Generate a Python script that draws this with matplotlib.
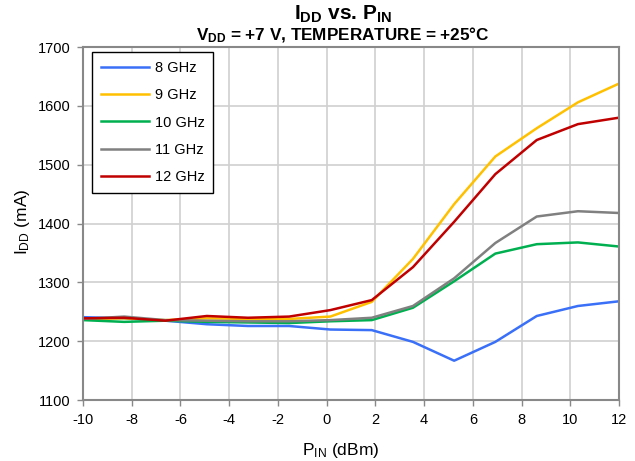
import matplotlib
matplotlib.use('Agg')
import matplotlib.pyplot as plt

plt.rcParams['font.family'] = ['Liberation Sans', 'DejaVu Sans']
plt.rcParams['mathtext.fontset'] = 'custom'
plt.rcParams['mathtext.rm'] = 'Liberation Sans'
plt.rcParams['mathtext.it'] = 'Liberation Sans'
plt.rcParams['mathtext.bf'] = 'Liberation Sans:bold'
plt.rcParams['axes.unicode_minus'] = False

# Datos
pin = [-10, -8.31, -6.62, -4.92, -3.23, -1.54, 0.15, 1.85, 3.54, 5.23, 6.92, 8.62, 10.31, 12]
idd_8 = [1241, 1239, 1235, 1229, 1226, 1226, 1220, 1219, 1199, 1167, 1199, 1243, 1260, 1268]
idd_9 = [1238, 1239, 1236, 1239, 1238, 1238, 1242, 1267, 1340, 1433, 1514, 1562, 1606, 1638]
idd_10 = [1236, 1233, 1235, 1233, 1232, 1231, 1234, 1236, 1257, 1302, 1349, 1365, 1368, 1361]
idd_11 = [1238, 1242, 1236, 1235, 1234, 1234, 1236, 1240, 1260, 1307, 1367, 1412, 1421, 1418]
idd_12 = [1239, 1240, 1235, 1243, 1240, 1242, 1253, 1270, 1326, 1403, 1484, 1542, 1569, 1580]

series = [
    ('8 GHz', idd_8, '#3a6ff7'),
    ('9 GHz', idd_9, '#ffc000'),
    ('10 GHz', idd_10, '#00b050'),
    ('11 GHz', idd_11, '#808080'),
    ('12 GHz', idd_12, '#c00000'),
]

fig = plt.figure(figsize=(6.35, 4.61), dpi=100)
ax = fig.add_axes([0.1307, 0.132, 0.8443, 0.766])

for nombre, valores, color in series:
    ax.plot(pin, valores, color=color, linewidth=1.8, label=nombre)

ax.set_xlim(-10, 12)
ax.set_ylim(1100, 1700)
ax.set_xticks(range(-10, 13, 2))
ax.set_yticks(range(1100, 1701, 100))
ax.grid(True, color='#d0d0d0', linewidth=1.2)
ax.set_axisbelow(True)
ax.tick_params(length=4, width=1, color='#888888', labelsize=10.5, pad=5)
for s in ax.spines.values():
    s.set_color('#888888')
    s.set_linewidth(1.5)

ax.set_xlabel(r'P$_{\mathregular{IN}}$ (dBm)', fontsize=12.5, va='center')
ax.xaxis.set_label_coords(0.48, -0.142)
ax.set_ylabel(r'I$_{\mathregular{DD}}$ (mA)', fontsize=12.5)
ax.yaxis.set_label_coords(-0.096, 0.505)

fig.text(0.540, 0.969, r'$\mathbf{I_{DD}}$ vs. $\mathbf{P_{IN}}$', ha='center', va='center',
         fontsize=15, fontweight='bold')
fig.text(0.540, 0.924, r'$\mathbf{V_{DD}}$ = +7 V, TEMPERATURE = +25°C', ha='center', va='center',
         fontsize=12.3, fontweight='bold')

leg = ax.legend(loc='upper left', bbox_to_anchor=(0.017, 0.986), borderaxespad=0,
                fontsize=10.5, fancybox=False, edgecolor='black', framealpha=1,
                handlelength=3.3, handletextpad=0.4, labelspacing=0.92, borderpad=0.6)
leg.get_frame().set_linewidth(1.0)

fig.savefig('out.png', dpi=100)
